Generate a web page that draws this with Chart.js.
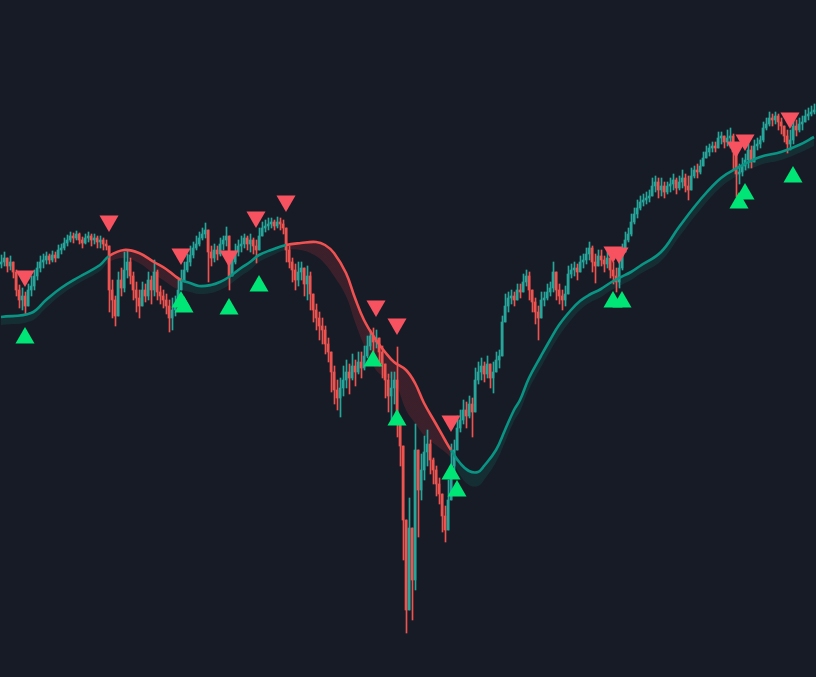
<!DOCTYPE html>
<html><head><meta charset="utf-8">
<script src="https://cdn.jsdelivr.net/npm/chart.js@4.4.1/dist/chart.umd.min.js"></script>
<style>html,body{margin:0;padding:0;background:#171b26;overflow:hidden}#wrap{width:816px;height:677px;position:relative}</style>
</head><body><div id="wrap"><canvas id="c"></canvas></div>
<script>
// ---- data (price units) ----
const firstOpen = 436;
const closes = [
438,442,434,438,428,410,400,404,394,410,414,424,432,438,440,444,440,445,442,450,452,457,460,464,462,466,460,457,462,464,460,462,458,460,456,454,
410,400,384,420,412,430,438,424,410,402,394,410,404,420,410,428,408,404,400,394,382,390,396,410,
420,430,438,445,452,456,462,466,470,448,442,450,446,456,460,464,424,438,448,454,456,462,456,460,454,450,464,472,474,476,478,474,478,476,472,
450,438,430,420,428,432,416,424,406,390,382,374,370,356,348,328,310,302,312,320,328,322,334,328,338,332,344,354,364,358,362,348,336,320,304,312,320,280,254,180,90,172,120,250,210,230,248,256,240,230,216,206,184,170,200,234,
250,272,280,290,284,296,288,320,328,334,326,336,322,328,340,344,378,394,402,404,400,410,408,418,424,410,398,388,382,400,
402,408,412,428,410,404,400,406,426,430,432,428,438,440,446,452,438,434,444,440,436,442,430,424,418,432,448,460,466,478,
486,492,498,500,502,504,514,518,510,514,508,514,516,520,512,518,522,514,510,524,530,528,534,542,548,552,554,552,562,564,
558,562,564,548,526,528,534,540,550,538,554,556,560,572,576,582,580,584,578,574,564,556,560,574,570,576,578,584,586,588,590];
const highs = [
445,448,442,444,438,430,415,412,408,416,424,430,438,444,446,448,446,449,448,455,456,462,465,468,467,469,467,463,466,468,466,466,464,464,462,460,
454,420,404,428,432,448,450,442,428,418,410,418,416,428,424,440,430,414,410,406,400,402,404,420,
430,438,446,454,458,464,468,472,477,470,454,456,454,462,464,473,460,448,456,460,464,466,464,466,462,460,472,478,480,482,482,480,483,482,480,
460,454,442,436,438,438,430,434,428,402,396,388,382,374,362,348,334,320,322,334,340,336,346,340,348,348,354,364,370,372,370,362,354,334,326,328,328,353,276,238,118,202,160,276,250,246,264,270,260,242,234,222,200,194,220,256,
260,284,290,300,298,304,302,332,338,342,338,344,336,338,348,350,384,406,408,410,408,416,416,426,430,428,410,402,394,408,
408,416,418,438,422,416,410,414,434,436,438,436,444,446,452,458,454,446,450,450,444,448,442,438,432,446,456,468,472,486,
492,500,504,506,508,510,522,524,522,522,518,518,522,526,522,524,530,526,524,532,534,536,540,548,554,556,558,558,568,568,
564,570,572,566,550,536,542,546,556,554,560,562,564,578,582,588,586,588,586,582,574,570,570,582,580,582,584,590,592,594,596];
const lows = [
432,434,428,430,422,404,392,390,386,396,404,410,420,428,432,436,436,438,438,442,446,450,454,458,457,460,456,452,456,458,454,456,452,452,450,450,
388,382,374,400,404,408,422,416,400,388,382,400,398,400,396,404,400,396,392,386,368,370,384,394,
410,418,428,434,442,450,454,460,462,418,434,438,440,444,450,454,410,424,436,444,448,452,450,448,446,437,450,464,468,470,472,470,472,470,466,
438,432,418,410,414,420,404,400,390,378,370,360,356,346,338,308,296,290,283,304,312,306,320,314,326,322,330,342,350,348,352,334,322,302,288,280,296,263,234,140,67,148,80,110,163,200,220,234,226,216,204,196,168,158,176,218,
226,260,268,276,272,282,263,306,316,320,318,322,312,307,328,332,344,380,388,396,394,402,402,410,414,400,388,376,360,388,
394,400,404,408,400,396,390,394,410,422,424,420,430,432,436,440,428,417,434,434,428,432,422,416,408,412,430,450,458,464,
476,482,490,494,496,498,506,508,502,504,502,506,508,510,506,510,512,508,500,516,522,522,526,534,542,544,548,548,554,556,
552,554,552,530,503,516,524,530,532,532,548,550,552,558,570,574,574,576,570,566,558,547,550,556,564,568,570,578,580,584,586];

// smoothed trend line and its band edge, sampled at bar indices
const maIndex = [0,10,15,20,26,33,36,41,46,51,55,58,60,63,66,70,73,76,80,83,86,90,95,100,105,108,111,115,118,121,125,128,131,135,138,141,145,148,150,153,156,159,161,165,168,171,173,176,180,183,186,190,193,196,200,203,206,210,213,220,226,233,240,246,253,260,266,271];
const maValues = [383,387,400,412,423,435,444,450,447,438,431,424,420,417,414,415,418,423,432,438,445,450,455,457,458,455,447,427,402,380,360,348,338,330,317,297,276,260,250,237,229,228,234,250,270,290,300,322,344,360,375,390,399,405,411,417,422,428,434,448,473,500,522,533,543,548,555,563];
const bandValues = [375,379,392,405,417,429,438,442,437,426,418,412,410,408,406,407,410,415,424,430,438,444,450,450,444,436,424,404,378,355,330,323,320,290,277,265,255,248,242,225,215,214,220,238,258,279,289,311,333,349,364,380,390,397,403,409,414,420,426,439,463,490,513,525,535,540,547,554];
const downRegimes = [[36,60],[95,150]];

// signals
const sellBars = [8,36,60,76,85,95,125,132,150,204,206,245,248,263];
const sellPrices = [424,479,446,444,483,499,394,376,279,448,447,553,560,582];
const buyBars = [8,60,61,76,86,124,132,150,152,204,207,246,248,264];
const buyPrices = [362,398,393,391,414,339,280,226,209,398,398,497,506,523];

// ---- styling ----
const UP = '#26a69a', DN = '#ef5350';
const LINE_UP = '#0a9484', LINE_DN = '#f05252';
const BAND_UP = 'rgba(10,150,132,0.16)', BAND_DN = 'rgba(240,60,70,0.17)';
const SELL = '#f7525f', BUY = '#00e676';

const opens = closes.map((c,i)=> i===0 ? firstOpen : closes[i-1]);
const bodies = closes.map((c,i)=>({x:i, y:[opens[i], c]}));
const wicks = closes.map((c,i)=>({x:i+1/6, y:[Math.min(lows[i],opens[i],c), Math.max(highs[i],opens[i],c)]}));
const candleColors = closes.map((c,i)=> c>=opens[i] ? UP : DN);
const maPts = maIndex.map((x,i)=>({x, y:maValues[i]}));
const bandPts = maIndex.map((x,i)=>({x, y:bandValues[i]}));
const sellPts = sellBars.map((x,i)=>({x, y:sellPrices[i]}));
const buyPts = buyBars.map((x,i)=>({x, y:buyPrices[i]}));
const isDown = x => downRegimes.some(([a,b])=> x>=a && x<b);

function bandFill(context){
  const chart = context.chart, area = chart.chartArea, xs = chart.scales && chart.scales.x;
  if(!area || !xs) return BAND_UP;
  const w = area.right - area.left;
  const f = v => (xs.getPixelForValue(v) - area.left)/w;
  if(!isFinite(f(0)) || w<=0) return BAND_UP;
  const cl = v => Math.min(1, Math.max(0, v));
  const g = chart.ctx.createLinearGradient(area.left,0,area.right,0);
  g.addColorStop(0, BAND_UP);
  downRegimes.forEach(([a,b])=>{
    g.addColorStop(cl(f(a)), BAND_UP); g.addColorStop(cl(f(a)), BAND_DN);
    g.addColorStop(cl(f(b)), BAND_DN); g.addColorStop(cl(f(b)), BAND_UP);
  });
  g.addColorStop(1, BAND_UP);
  return g;
}

new Chart(document.getElementById('c'), {
  type:'bar',
  data:{datasets:[
    {type:'line', label:'Sell', data:sellPts, showLine:false, pointStyle:'triangle', pointRotation:180,
     pointRadius:11, pointHoverRadius:11, pointBackgroundColor:SELL, pointBorderWidth:0, order:0, clip:false},
    {type:'line', label:'Buy', data:buyPts, showLine:false, pointStyle:'triangle', pointRotation:0,
     pointRadius:11, pointHoverRadius:11, pointBackgroundColor:BUY, pointBorderWidth:0, order:0, clip:false},
    {type:'line', label:'Trend', data:maPts, borderWidth:2.6, pointRadius:0, tension:0.4,
     borderColor:LINE_UP, fill:false, order:1,
     segment:{borderColor: ctx => isDown(ctx.p0.parsed.x) ? LINE_DN : LINE_UP}},
    {type:'bar', label:'Body', data:bodies, backgroundColor:candleColors, barThickness:2, grouped:false, order:2},
    {type:'bar', label:'Wick', data:wicks, backgroundColor:candleColors, barThickness:1, grouped:false, order:3},
    {type:'line', label:'Band', data:bandPts, borderWidth:0, pointRadius:0, tension:0.4,
     fill:{target:2}, backgroundColor:bandFill, order:4}
  ]},
  options:{
    responsive:true, maintainAspectRatio:false, animation:false, events:[],
    layout:{padding:0, autoPadding:false},
    plugins:{legend:{display:false}, tooltip:{enabled:false}},
    scales:{
      x:{type:'linear', display:false, min:-1/3, max:815/3, offset:false},
      y:{type:'linear', display:false, min:23, max:700}
    }
  }
});
</script>
</body></html>
